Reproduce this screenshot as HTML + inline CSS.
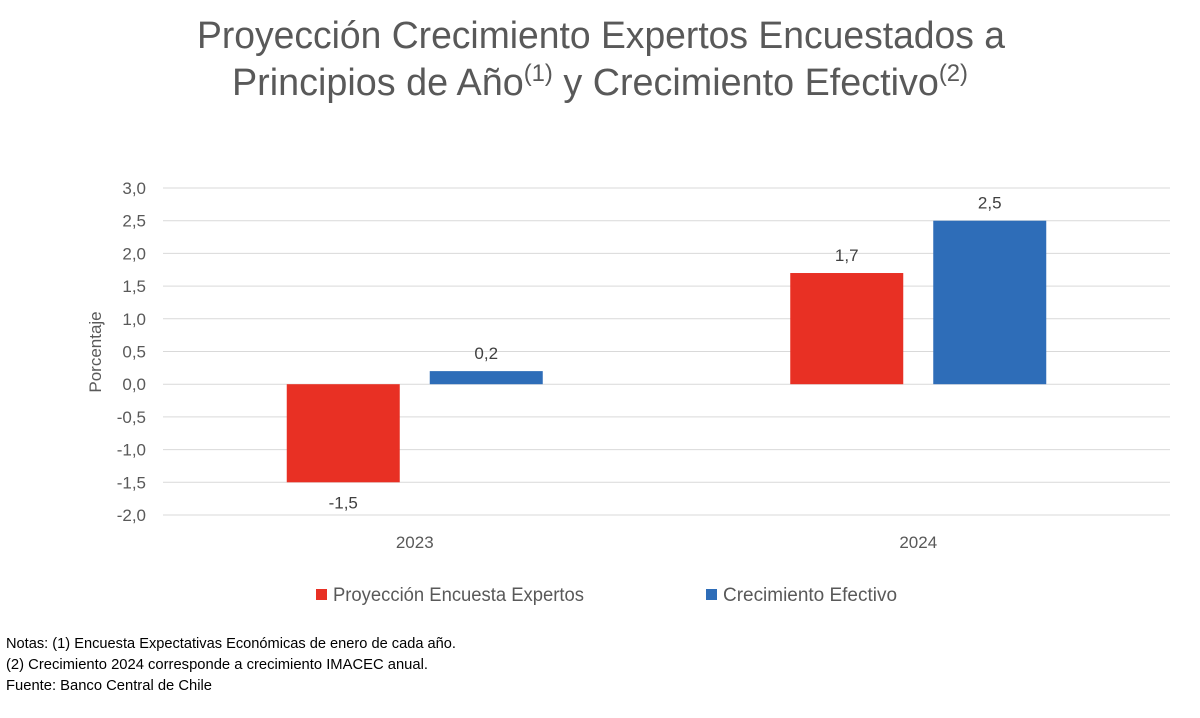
<!DOCTYPE html>
<html><head><meta charset="utf-8"><style>body{margin:0;background:#fff}svg{display:block;font-family:"Liberation Sans",sans-serif}</style></head>
<body>
<svg id="c" width="1200" height="718">
<text x="601" y="48" text-anchor="middle" font-size="38" fill="#595959" textLength="808" lengthAdjust="spacingAndGlyphs">Proyección Crecimiento Expertos Encuestados a</text>
<text x="232" y="95" font-size="38" fill="#595959" textLength="736" lengthAdjust="spacingAndGlyphs">Principios de Año<tspan font-size="24" dy="-14">(1)</tspan><tspan dy="14"> y Crecimiento Efectivo</tspan><tspan font-size="24" dy="-14">(2)</tspan></text>
<g id="grid"></g><g id="bars"></g>
<text transform="translate(101,352) rotate(-90)" text-anchor="middle" font-size="17" fill="#595959">Porcentaje</text>
<rect x="316" y="589" width="11" height="11" fill="#e83024"/>
<text x="333" y="601" font-size="19" fill="#595959" textLength="251" lengthAdjust="spacingAndGlyphs">Proyección Encuesta Expertos</text>
<rect x="706" y="589" width="11" height="11" fill="#2e6db8"/>
<text x="723" y="601" font-size="19" fill="#595959" textLength="174" lengthAdjust="spacingAndGlyphs">Crecimiento Efectivo</text>
<g font-size="14.5" fill="#000">
<text x="6" y="648" textLength="450" lengthAdjust="spacingAndGlyphs">Notas: (1) Encuesta Expectativas Económicas de enero de cada año.</text>
<text x="6" y="669" textLength="422" lengthAdjust="spacingAndGlyphs">(2) Crecimiento 2024 corresponde a crecimiento IMACEC anual.</text>
<text x="6" y="690" textLength="206" lengthAdjust="spacingAndGlyphs">Fuente: Banco Central de Chile</text>
</g>
</svg>
<script>
const categories=["2023","2024"];
const proyeccion=[-1.5,1.7];
const efectivo=[0.2,2.5];
const yTicks=[3,2.5,2,1.5,1,0.5,0,-0.5,-1,-1.5,-2];
const NS="http://www.w3.org/2000/svg";
const x0=163,x1=1170,yTop=188,yBot=515,vMax=3,vMin=-2;
const y=v=>yTop+(vMax-v)/(vMax-vMin)*(yBot-yTop);
const fmt=v=>v.toFixed(1).replace('.',',');
function mk(t,a,p){const e=document.createElementNS(NS,t);for(const k in a)e.setAttribute(k,a[k]);p.appendChild(e);return e;}
const g=document.getElementById('grid'),b=document.getElementById('bars');
yTicks.forEach(v=>{
 const l=mk('line',{x1:x0,x2:x1,y1:y(v),y2:y(v),stroke:'#d9d9d9','stroke-width':1},g);
 
 
 const t=mk('text',{x:146,y:y(v)+6,'text-anchor':'end','font-size':17,fill:'#595959'},g);
 
 
 t.textContent=fmt(v);
});
const cw=(x1-x0)/categories.length,bw=113,gap=30;
categories.forEach((c,i)=>{
 const cx=x0+cw*(i+0.5);
 [[proyeccion[i],'#e83024',cx-gap/2-bw],[efectivo[i],'#2e6db8',cx+gap/2]].forEach(([v,col,bx],j)=>{
  const r=mk('rect',{x:bx,y:Math.min(y(v),y(0)),width:bw,height:Math.abs(y(v)-y(0)),fill:col},b);
  
  
  const t=mk('text',{x:bx+bw/2,y:v>=0?y(v)-12:y(v)+26,'text-anchor':'middle','font-size':17,fill:'#404040'},b);
  
  
  t.textContent=fmt(v);
 });
 const t=mk('text',{x:cx,y:548,'text-anchor':'middle','font-size':17,fill:'#595959'},b);
 
 
 t.textContent=c;
});
</script>
</body></html>
